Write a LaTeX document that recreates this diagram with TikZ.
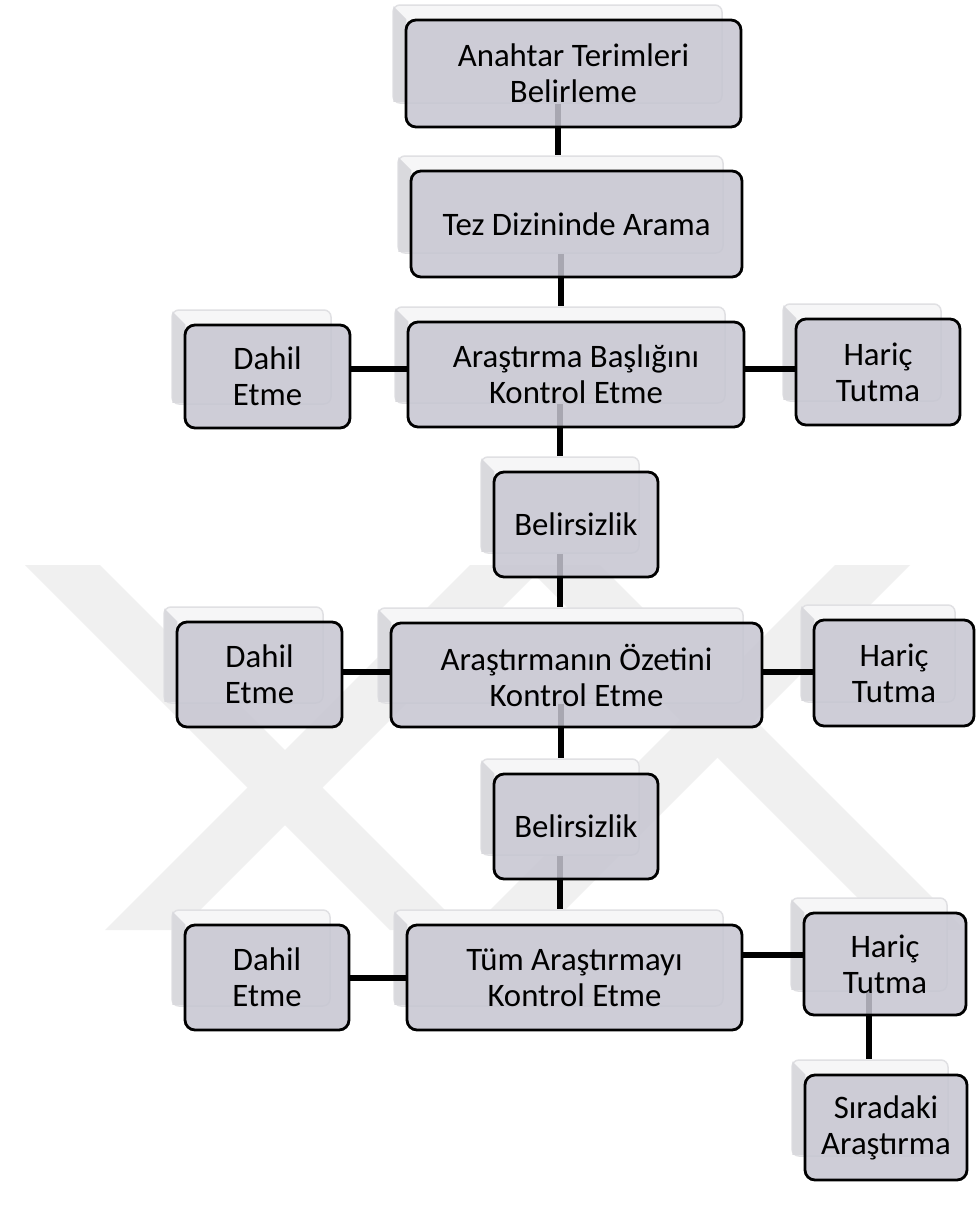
\documentclass[tikz,border=0pt]{standalone}
\usepackage{fontspec}
\setmainfont{Carlito}
\definecolor{boxfill}{HTML}{C6C5D1}
\definecolor{backfill}{HTML}{F6F6F7}
\definecolor{backedge}{HTML}{E0E0E3}
\definecolor{bevelc}{HTML}{D9D9DD}
\definecolor{wmc}{HTML}{F0F0F0}
\pgfdeclarelayer{wmark}
\pgfdeclarelayer{backl}
\pgfdeclarelayer{connl}
\pgfsetlayers{wmark,backl,connl,main}
\tikzset{
  frontbox/.style={draw=black, line width=2.8pt, rounded corners=10pt, fill=boxfill,
    fill opacity=0.85, text opacity=1, align=center, inner sep=0pt,
    font=\fontsize{32.8}{36}\selectfont},
  backbox/.style={draw=backedge, line width=1.5pt, rounded corners=7pt, fill=backfill, inner sep=0pt},
  conn/.style={line width=6pt, black},
  wmband/.style={fill=wmc}
}
\newcommand\flowbox[6]{%
  \begin{pgfonlayer}{backl}
    \node[backbox, minimum width={(#4-6)*1pt}, minimum height={(#5-9)*1pt}] (#1-bk) at (#2-16,#3-19.5) {};
    \fill[bevelc] ([shift={(1,2)}]#1-bk.north west) -- ++(13,13) -- ([shift={(14,-2)}]#1-bk.south west) -- ([shift={(1,-2)}]#1-bk.south west) -- cycle;
  \end{pgfonlayer}
  \node[frontbox, minimum width={#4*1pt}, minimum height={#5*1pt}] (#1) at (#2,#3) {#6};
}
\begin{document}
\begin{tikzpicture}[x=1pt, y=-1pt]
\useasboundingbox (0,0) rectangle (976,1205);
\begin{pgfonlayer}{wmark}
  \fill[white] (0,0) rectangle (976,1205);
  \fill[wmband] (25,565) -- (100,565) -- (465,930) -- (390,930) -- cycle;
  \fill[wmband] (470,565) -- (545,565) -- (180,930) -- (105,930) -- cycle;
  \fill[wmband] (835,565) -- (910,565) -- (545,930) -- (470,930) -- cycle;
  \fill[wmband] (525,565) -- (600,565) -- (965,930) -- (890,930) -- cycle;
\end{pgfonlayer}

\flowbox{anahtar}{573.5}{73.5}{335}{107}{Anahtar Terimleri\\Belirleme}
\flowbox{tez}{576.5}{224}{331}{106}{Tez Dizininde Arama}
\flowbox{dahilA}{267.5}{376.5}{165}{103}{Dahil\\Etme}
\flowbox{baslik}{576}{374.5}{336}{105}{Araştırma Başlığını\\Kontrol Etme}
\flowbox{haricA}{878}{372}{164}{106}{Hariç\\Tutma}
\flowbox{belA}{576}{524.5}{164}{105}{Belirsizlik}
\flowbox{dahilB}{259.5}{674.5}{165}{105}{Dahil\\Etme}
\flowbox{ozet}{576.5}{675}{371}{104}{Araştırmanın Özetini\\Kontrol Etme}
\flowbox{haricB}{894}{673}{160}{106}{Hariç\\Tutma}
\flowbox{belB}{576}{826.5}{164}{105}{Belirsizlik}
\flowbox{dahilC}{267}{977.5}{164}{105}{Dahil\\Etme}
\flowbox{tum}{574.5}{977.5}{335}{105}{Tüm Araştırmayı\\Kontrol Etme}
\flowbox{haricC}{885}{964}{162}{102}{Hariç\\Tutma}
\flowbox{sira}{886}{1127.5}{162}{105}{Sıradaki\\Araştırma}

\begin{pgfonlayer}{connl}
  \draw[conn] (anahtar-bk.south) -- (anahtar-bk.south |- tez-bk.north);
  \draw[conn] (tez-bk.south) -- (tez-bk.south |- baslik-bk.north);
  \draw[conn] (baslik-bk.south) -- (baslik-bk.south |- belA-bk.north);
  \draw[conn] (belA-bk.south) -- (belA-bk.south |- ozet-bk.north);
  \draw[conn] (ozet-bk.south) -- (ozet-bk.south |- belB-bk.north);
  \draw[conn] (belB-bk.south) -- (belB-bk.south |- tum-bk.north);
  \draw[conn] (haricC-bk.south) -- (haricC-bk.south |- sira-bk.north);
  \draw[conn] ([yshift=8pt]dahilA.east) -- ([yshift=8pt]dahilA.east -| baslik.west);
  \draw[conn] ([yshift=8pt]dahilA.east -| baslik.east) -- ([yshift=8pt]dahilA.east -| haricA.west);
  \draw[conn] ([yshift=2.5pt]dahilB.east) -- ([yshift=2.5pt]dahilB.east -| ozet.west);
  \draw[conn] ([yshift=2.5pt]dahilB.east -| ozet.east) -- ([yshift=2.5pt]dahilB.east -| haricB.west);
  \draw[conn] (dahilC.east) -- (dahilC.east -| tum.west);
  \draw[conn] ([yshift=9pt]haricC.west -| tum.east) -- ([yshift=9pt]haricC.west);
\end{pgfonlayer}
\end{tikzpicture}
\end{document}
